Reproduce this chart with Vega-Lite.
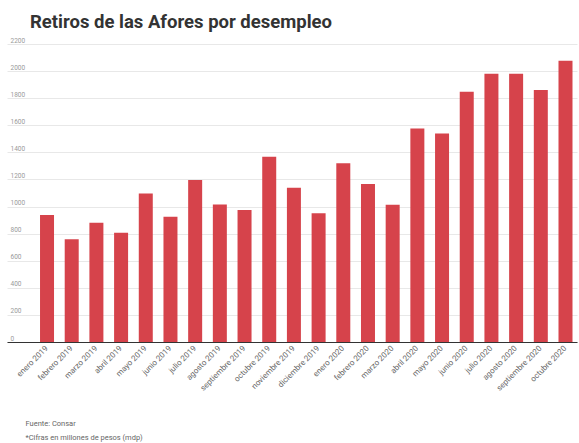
{
  "$schema": "https://vega.github.io/schema/vega-lite/v6.json",
  "autosize": {"type": "none"},
  "padding": {"left": 7, "top": 44, "right": 2, "bottom": 101},
  "width": 570,
  "height": 298,
  "background": "white",
  "title": {
    "text": "Retiros de las Afores por desempleo",
    "anchor": "start",
    "dx": 23,
    "offset": 6,
    "font": "Roboto",
    "fontSize": 18.5,
    "fontWeight": "bold",
    "color": "#333333"
  },
  "data": {
    "values": [
      {"mes": "enero 2019", "retiros": 937},
      {"mes": "febrero 2019", "retiros": 758},
      {"mes": "marzo 2019", "retiros": 880},
      {"mes": "abril 2019", "retiros": 807},
      {"mes": "mayo 2019", "retiros": 1097},
      {"mes": "junio 2019", "retiros": 925},
      {"mes": "julio 2019", "retiros": 1196},
      {"mes": "agosto 2019", "retiros": 1016},
      {"mes": "septiembre 2019", "retiros": 974},
      {"mes": "octubre 2019", "retiros": 1368},
      {"mes": "noviembre 2019", "retiros": 1139},
      {"mes": "diciembre 2019", "retiros": 950},
      {"mes": "enero 2020", "retiros": 1319},
      {"mes": "febrero 2020", "retiros": 1166},
      {"mes": "marzo 2020", "retiros": 1013},
      {"mes": "abril 2020", "retiros": 1577},
      {"mes": "mayo 2020", "retiros": 1540},
      {"mes": "junio 2020", "retiros": 1847},
      {"mes": "julio 2020", "retiros": 1980},
      {"mes": "agosto 2020", "retiros": 1980},
      {"mes": "septiembre 2020", "retiros": 1860},
      {"mes": "octubre 2020", "retiros": 2076}
    ]
  },
  "mark": {"type": "bar", "color": "#d6434b"},
  "encoding": {
    "x": {
      "field": "mes",
      "type": "nominal",
      "sort": null,
      "scale": {"paddingInner": 0.433, "paddingOuter": 0.76, "align": 0.88},
      "axis": {
        "title": ["Fuente: Consar", "*Cifras en millones de pesos (mdp)"],
        "titleX": 18,
        "titleY": 83.5,
        "titleAlign": "left",
        "titleBaseline": "alphabetic",
        "titleAnchor": "start",
        "titleFont": "Roboto",
        "titleFontSize": 7.5,
        "titleFontWeight": "normal",
        "titleColor": "#666666",
        "titleLineHeight": 14,
        "labelAngle": -45,
        "labelAlign": "right",
        "labelBaseline": "middle",
        "labelFont": "Roboto",
        "labelFontSize": 8,
        "labelColor": "#666666",
        "labelPadding": 5,
        "ticks": false,
        "tickSize": 0,
        "domainColor": "#333333",
        "domainWidth": 1,
        "grid": false
      }
    },
    "y": {
      "field": "retiros",
      "type": "quantitative",
      "scale": {"domain": [0, 2200], "nice": false},
      "axis": {
        "title": null,
        "format": "d",
        "values": [0, 200, 400, 600, 800, 1000, 1200, 1400, 1600, 1800, 2000, 2200],
        "labelAlign": "left",
        "labelBaseline": "bottom",
        "labelPadding": -3,
        "labelOffset": -1,
        "labelFont": "Roboto",
        "labelFontSize": 6.5,
        "labelColor": "#999999",
        "ticks": false,
        "tickSize": 0,
        "domain": false,
        "grid": true,
        "gridColor": "#e8e8e8",
        "gridWidth": 1
      }
    }
  },
  "config": {"view": {"stroke": null}}
}
